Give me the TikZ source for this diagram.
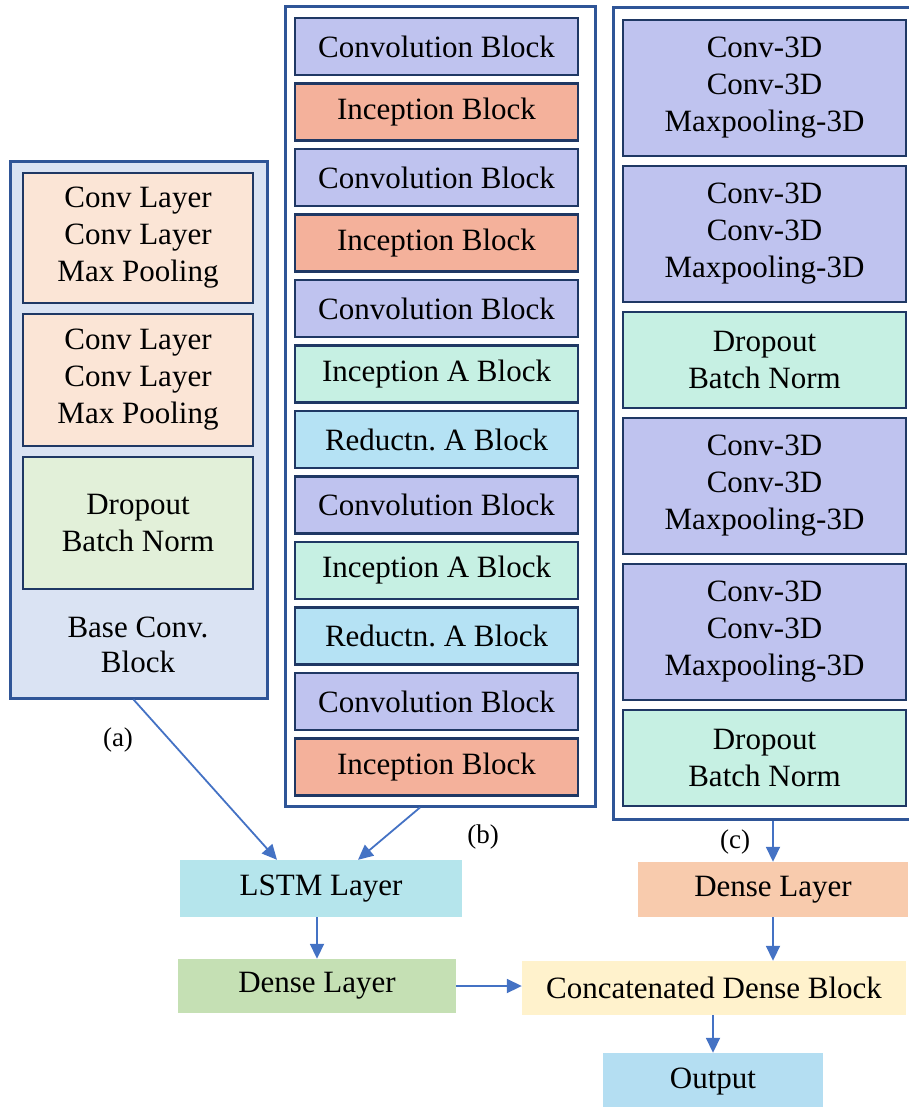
\documentclass[tikz,border=0pt]{standalone}
\usepackage{fontspec}
\setmainfont{Liberation Serif}
\usepackage{tikz}
\usetikzlibrary{arrows.meta,calc}
\definecolor{navy}{HTML}{1F3864}
\definecolor{frame}{HTML}{2F5597}
\definecolor{arrowblue}{HTML}{4472C4}
\definecolor{abg}{HTML}{DAE3F3}
\definecolor{peach}{HTML}{FBE5D6}
\definecolor{lightgreen}{HTML}{E2F0D9}
\definecolor{lav}{HTML}{BFC3EF}
\definecolor{salmon}{HTML}{F4B19B}
\definecolor{mint}{HTML}{C6F0E3}
\definecolor{skyb}{HTML}{B5E2F4}
\definecolor{lstmc}{HTML}{B5E5EC}
\definecolor{greenc}{HTML}{C5E0B4}
\definecolor{orangec}{HTML}{F8CBAD}
\definecolor{creamc}{HTML}{FFF2CC}
\definecolor{outc}{HTML}{B4DEF2}

\begin{document}
\begin{tikzpicture}[x=1pt,y=-1pt,
  panel/.style={draw=frame,line width=3pt,inner sep=0pt},
  blk/.style={draw=navy,line width=2.8pt,minimum width=283pt,minimum height=57pt,inner sep=0pt,align=center,font=\fontsize{31}{37}\selectfont},
  lyr/.style={inner sep=0pt,minimum height=55pt,font=\fontsize{31}{37}\selectfont},
  lbl/.style={font=\fontsize{27}{30}\selectfont},
  conn/.style={color=arrowblue,line width=1.8pt,-{Triangle[length=15pt,width=14pt]}}]
\useasboundingbox (0,0) rectangle (908,1107);
\node (pa) at (138.5,430) [panel,fill=abg,minimum width=257pt,minimum height=536pt] {};
\node (a1) at (138,238) [blk,fill=peach,minimum width=230pt,minimum height=130pt] {Conv Layer\\Conv Layer\\Max Pooling};
\node (a2) at (138,380) [blk,fill=peach,minimum width=230pt,minimum height=132pt] {Conv Layer\\Conv Layer\\Max Pooling};
\node (a3) at (138,523) [blk,fill=lightgreen,minimum width=230pt,minimum height=132pt] {Dropout\\Batch Norm};
\node (abase) at (138,645) [align=center,font=\fontsize{31}{35}\selectfont] {Base Conv.\\Block};
\node (la) at (118,740) [lbl] {(a)};
\node (pb) at (440,406.5) [panel,fill=white,minimum width=310pt,minimum height=799pt] {};
\node (b1) at (436.5,46.5) [blk,fill=lav] {Convolution Block};
\node (b2) at (436.5,112) [blk,fill=salmon] {Inception Block};
\node (b3) at (436.5,177.5) [blk,fill=lav] {Convolution Block};
\node (b4) at (436.5,243) [blk,fill=salmon] {Inception Block};
\node (b5) at (436.5,308.5) [blk,fill=lav] {Convolution Block};
\node (b6) at (436.5,374) [blk,fill=mint] {Inception A Block};
\node (b7) at (436.5,439.5) [blk,fill=skyb] {Reductn.\ A Block};
\node (b8) at (436.5,505) [blk,fill=lav] {Convolution Block};
\node (b9) at (436.5,570.5) [blk,fill=mint] {Inception A Block};
\node (b10) at (436.5,636) [blk,fill=skyb] {Reductn.\ A Block};
\node (b11) at (436.5,701.5) [blk,fill=lav] {Convolution Block};
\node (b12) at (436.5,767) [blk,fill=salmon] {Inception Block};
\node (lb) at (483,837) [lbl] {(b)};
\node (pc) at (762.5,413.5) [panel,fill=white,minimum width=299pt,minimum height=811pt] {};
\node (c1) at (764.5,88) [blk,fill=lav,minimum height=136pt] {Conv-3D\\Conv-3D\\Maxpooling-3D};
\node (c2) at (764.5,234) [blk,fill=lav,minimum height=136pt] {Conv-3D\\Conv-3D\\Maxpooling-3D};
\node (c3) at (764.5,360) [blk,fill=mint,minimum height=96pt] {Dropout\\Batch Norm};
\node (c4) at (764.5,486) [blk,fill=lav,minimum height=136pt] {Conv-3D\\Conv-3D\\Maxpooling-3D};
\node (c5) at (764.5,632) [blk,fill=lav,minimum height=136pt] {Conv-3D\\Conv-3D\\Maxpooling-3D};
\node (c6) at (764.5,758) [blk,fill=mint,minimum height=96pt] {Dropout\\Batch Norm};
\node (lc) at (735,842) [lbl] {(c)};
\node (lstm) at (321,888.5) [lyr,fill=lstmc,minimum width=282pt,minimum height=57pt] {LSTM Layer};
\node (dg) at (317,986) [lyr,fill=greenc,minimum width=278pt,minimum height=54pt] {Dense Layer};
\node (do) at (773,889.5) [lyr,fill=orangec,minimum width=270pt] {Dense Layer};
\node (cat) at (714,988) [lyr,fill=creamc,minimum width=384pt,minimum height=54pt] {Concatenated Dense Block};
\node (out) at (713,1081.5) [lyr,fill=outc,minimum width=220pt,minimum height=57pt] {Output};
\draw[conn] ([xshift=-5pt]pa.south) -- ([xshift=-44pt]lstm.north);
\draw[conn] ([xshift=-20pt]pb.south) -- ([xshift=37pt]lstm.north);
\draw[conn] (lstm.south -| dg.north) -- (dg.north);
\draw[conn] (pc.south -| do.north) -- (do.north);
\draw[conn] (do.south) -- (do.south |- cat.north);
\draw[conn] (dg.east) -- (dg.east -| cat.west);
\draw[conn] (cat.south -| out.north) -- (out.north);
\end{tikzpicture}
\end{document}
